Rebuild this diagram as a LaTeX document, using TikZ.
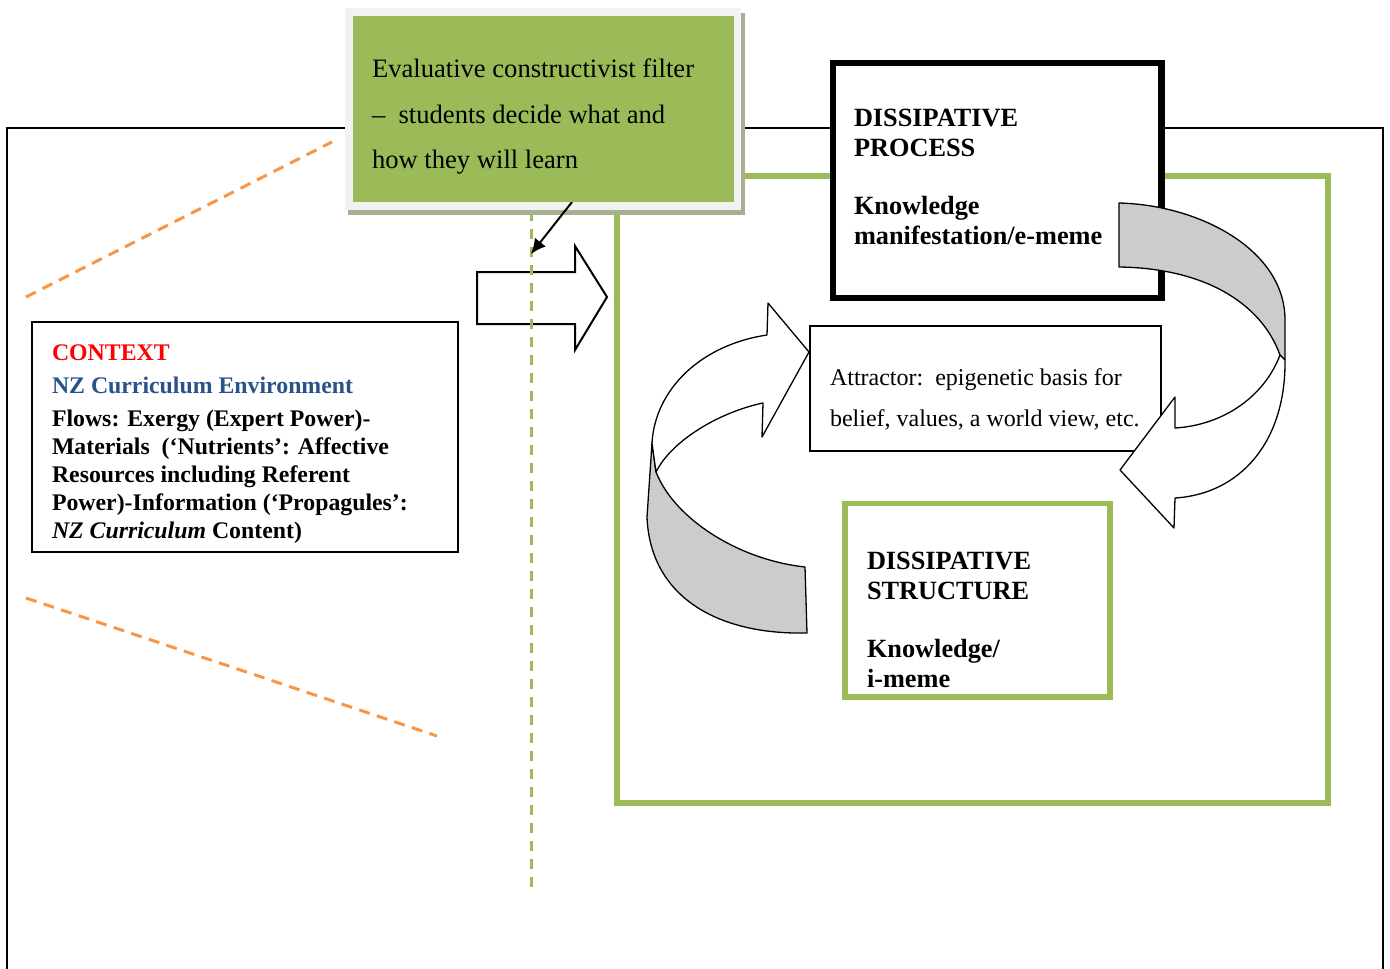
\documentclass[tikz,border=0pt]{standalone}
\usepackage{fontspec}
\setmainfont{Liberation Serif}
\usetikzlibrary{arrows.meta}
\definecolor{wgreen}{HTML}{9BBB59}
\definecolor{wshadow}{RGB}{168,176,146}
\definecolor{wlight}{HTML}{F2F2F2}
\definecolor{worange}{HTML}{F79646}
\definecolor{wgray}{HTML}{CCCCCC}
\definecolor{wblue}{RGB}{41,82,140}
\begin{document}
\begin{tikzpicture}[x=1pt,y=-1pt,
  every node/.style={inner sep=0pt, outer sep=0pt},
  greenframe/.style={draw=wgreen, line width=5.5pt},
  orangedash/.style={draw=worange, line width=3pt, dash pattern=on 11pt off 7.5pt},
  greendash/.style={draw=wgreen, line width=3pt, dash pattern=on 10pt off 8pt},
  ribbon/.style={draw=black, line width=1.3pt, line join=round},
  txt/.style={anchor=north west, align=left},
]
\useasboundingbox (0,0) rectangle (1390,969);

% outer frame
\coordinate (fbl) at (7,985);
\coordinate (fbr) at (1383,985);
\coordinate (ftr) at (1383,128);
\draw[line width=2.5pt] (fbl) |- (ftr) -- (fbr);

% orange dashed boundaries
\coordinate (o1) at (26,297); \coordinate (o2) at (332,142);
\coordinate (o3) at (26,598); \coordinate (o4) at (437,736);
\draw[orangedash] (o1) -- (o2);
\draw[orangedash] (o3) -- (o4);

% big green system frame
\node[greenframe, minimum width=711pt, minimum height=627pt, anchor=north west] (system) at (617,176) {};

% block arrow
\draw[line width=2pt, fill=white, line join=miter] (477,272) -- (575,272) -- (575,246) -- (607,297) -- (575,350) -- (575,324) -- (477,324) -- cycle;

% green dashed vertical
\coordinate (d1) at (531,211); \coordinate (d2) at (531,893);
\draw[greendash] (d1) -- (d2);

% filter box with shadow and light border
\fill[wshadow] (348,13) rectangle (745,215);
\fill[wlight] (345,8) rectangle (741,210);
\coordinate (fstart) at (572,202);
\coordinate (ftip) at (531,254);
\draw[line width=2pt, -{Latex[length=15pt,width=14pt]}] (fstart) -- (ftip);
\node[fill=wgreen, minimum width=380.5pt, minimum height=186pt, anchor=north west] (filter) at (353,16) {};
\node[txt, font=\fontsize{26.6}{45.7}\selectfont] (filtertxt) at (372,58.8) {Evaluative constructivist filter\\–\ \ students decide what and\\how they will learn};

% context box
\node[draw, line width=2pt, fill=white, minimum width=426.5pt, minimum height=229.5pt, anchor=north west] (context) at (31.5,322) {};
\node[txt, font=\bfseries\fontsize{23.8}{28}\selectfont] (contexttxt) at (52,344.7) {{\color{red}CONTEXT}\\[5pt]{\color{wblue}NZ Curriculum Environment}\\[5pt]Flows: Exergy (Expert Power)-\\Materials\ \ (‘Nutrients’: Affective\\Resources including Referent\\Power)-Information (‘Propagules’:\\\textit{NZ Curriculum} Content)};

% dissipative process box
\node[draw, line width=6.5pt, fill=white, minimum width=328.5pt, minimum height=235pt, anchor=north west] (process) at (833,63) {};
\node[txt, font=\bfseries\fontsize{26.3}{30.5}\selectfont] (processtxt) at (854,109) {DISSIPATIVE\\PROCESS\\[27pt]Knowledge\\manifestation/e-meme};

% attractor box
\node[draw, line width=2pt, fill=white, minimum width=351.5pt, minimum height=125pt, anchor=north west] (attractor) at (809.5,326) {};
\node[txt, font=\fontsize{24}{41}\selectfont] (attractortxt) at (830,368.6) {Attractor:\ \ epigenetic basis for\\belief, values, a world view, etc.};

% dissipative structure box
\node[draw=wgreen, line width=5.5pt, fill=white, minimum width=265pt, minimum height=193.5pt, anchor=north west] (structure) at (845,503.5) {};
\node[txt, font=\bfseries\fontsize{26.3}{30}\selectfont] (structuretxt) at (867,552.2) {DISSIPATIVE\\STRUCTURE\\[28pt]Knowledge/\\i-meme};

% right circular arrow
\draw[ribbon, fill=wgray] (1119,203) .. controls (1200,205) and (1285,250) .. (1285,320) -- (1285,360) -- (1280,355) .. controls (1260,300) and (1200,268) .. (1119,267) -- cycle;
\draw[ribbon, fill=white] (1285,360) .. controls (1286,442) and (1240,494) .. (1175,498) -- (1174,528) -- (1120,470) -- (1175,397) -- (1175,428) .. controls (1225,425) and (1265,395) .. (1280,355) -- cycle;

% left circular arrow
\draw[ribbon, fill=wgray] (652,443) -- (647,517) .. controls (650,595) and (715,635) .. (807,633) -- (805,567) .. controls (740,560) and (675,520) .. (656,472) -- cycle;
\draw[ribbon, fill=white] (652,443) .. controls (655,390) and (700,345) .. (767,335) -- (768,303) -- (809,352) -- (762,437) -- (763,403) .. controls (720,412) and (672,440) .. (656,472) -- cycle;
\end{tikzpicture}
\end{document}
